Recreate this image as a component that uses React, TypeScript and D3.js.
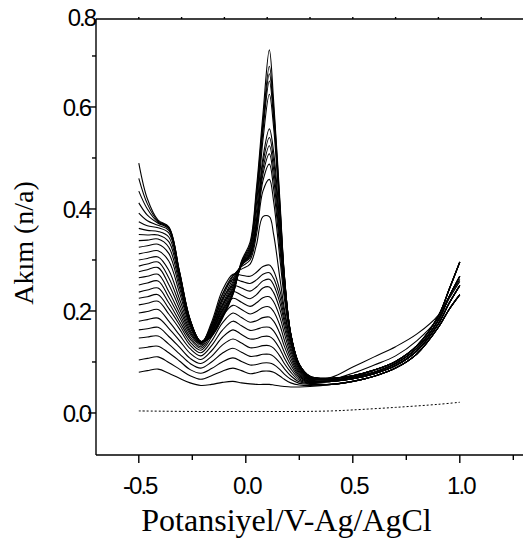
import React from 'react';
import * as d3 from 'd3';

// potentials (V) at which the scan currents are read
const potentials = [-0.5, -0.46, -0.41, -0.36, -0.31, -0.26, -0.21, -0.16, -0.11, -0.06, -0.02, 0.02, 0.05, 0.08, 0.11, 0.13, 0.16, 0.18, 0.21, 0.25, 0.3];
const tailPotentials = [0.4, 0.5, 0.6, 0.7, 0.8, 0.9, 0.95, 1.0];

// current (n/a) for each scan, lowest to highest
const scanCurrents: number[][] = [
  [0.080, 0.083, 0.086, 0.078, 0.068, 0.059, 0.054, 0.056, 0.060, 0.062, 0.059, 0.057, 0.056, 0.056, 0.056, 0.055, 0.053, 0.052, 0.051, 0.051, 0.052],
  [0.104, 0.107, 0.110, 0.099, 0.086, 0.073, 0.066, 0.073, 0.082, 0.088, 0.083, 0.077, 0.079, 0.082, 0.082, 0.080, 0.072, 0.066, 0.059, 0.055, 0.054],
  [0.127, 0.129, 0.131, 0.118, 0.102, 0.085, 0.078, 0.087, 0.100, 0.108, 0.101, 0.094, 0.095, 0.098, 0.098, 0.095, 0.085, 0.076, 0.066, 0.058, 0.056],
  [0.147, 0.149, 0.151, 0.135, 0.116, 0.097, 0.088, 0.100, 0.117, 0.127, 0.119, 0.111, 0.112, 0.115, 0.115, 0.111, 0.098, 0.087, 0.073, 0.061, 0.057],
  [0.163, 0.165, 0.168, 0.150, 0.129, 0.107, 0.097, 0.111, 0.133, 0.145, 0.137, 0.128, 0.129, 0.132, 0.132, 0.127, 0.111, 0.097, 0.080, 0.064, 0.058],
  [0.180, 0.183, 0.186, 0.166, 0.142, 0.117, 0.105, 0.122, 0.148, 0.163, 0.154, 0.145, 0.146, 0.150, 0.150, 0.144, 0.125, 0.108, 0.087, 0.067, 0.059],
  [0.196, 0.199, 0.203, 0.180, 0.153, 0.126, 0.112, 0.132, 0.162, 0.180, 0.171, 0.162, 0.164, 0.168, 0.168, 0.161, 0.139, 0.119, 0.094, 0.070, 0.060],
  [0.212, 0.215, 0.219, 0.194, 0.165, 0.133, 0.118, 0.141, 0.176, 0.196, 0.187, 0.178, 0.181, 0.187, 0.188, 0.180, 0.155, 0.131, 0.101, 0.073, 0.061],
  [0.225, 0.228, 0.232, 0.205, 0.173, 0.139, 0.123, 0.149, 0.189, 0.211, 0.203, 0.194, 0.199, 0.207, 0.208, 0.199, 0.171, 0.143, 0.108, 0.076, 0.062],
  [0.237, 0.241, 0.245, 0.216, 0.180, 0.145, 0.127, 0.156, 0.201, 0.225, 0.217, 0.209, 0.216, 0.226, 0.228, 0.218, 0.187, 0.156, 0.115, 0.079, 0.063],
  [0.251, 0.255, 0.259, 0.227, 0.188, 0.149, 0.130, 0.163, 0.211, 0.238, 0.231, 0.224, 0.232, 0.245, 0.247, 0.236, 0.202, 0.168, 0.122, 0.082, 0.064],
  [0.265, 0.268, 0.272, 0.238, 0.196, 0.154, 0.133, 0.169, 0.222, 0.250, 0.245, 0.239, 0.247, 0.259, 0.262, 0.251, 0.215, 0.178, 0.128, 0.085, 0.065],
  [0.277, 0.281, 0.285, 0.252, 0.205, 0.158, 0.135, 0.174, 0.232, 0.262, 0.258, 0.254, 0.261, 0.272, 0.275, 0.264, 0.226, 0.187, 0.134, 0.088, 0.066],
  [0.288, 0.292, 0.296, 0.265, 0.214, 0.162, 0.136, 0.178, 0.240, 0.272, 0.270, 0.268, 0.276, 0.287, 0.290, 0.279, 0.239, 0.197, 0.140, 0.090, 0.067],
  [0.300, 0.303, 0.306, 0.280, 0.224, 0.167, 0.137, 0.172, 0.232, 0.270, 0.282, 0.292, 0.330, 0.385, 0.385, 0.350, 0.262, 0.205, 0.140, 0.090, 0.068],
  [0.312, 0.315, 0.318, 0.298, 0.236, 0.171, 0.138, 0.168, 0.225, 0.268, 0.287, 0.300, 0.350, 0.435, 0.458, 0.415, 0.300, 0.225, 0.148, 0.092, 0.069],
  [0.325, 0.328, 0.331, 0.313, 0.246, 0.174, 0.139, 0.165, 0.218, 0.263, 0.290, 0.305, 0.360, 0.455, 0.488, 0.440, 0.318, 0.236, 0.150, 0.093, 0.069],
  [0.338, 0.339, 0.341, 0.325, 0.254, 0.176, 0.139, 0.162, 0.212, 0.258, 0.290, 0.308, 0.365, 0.468, 0.508, 0.460, 0.330, 0.243, 0.152, 0.094, 0.070],
  [0.350, 0.349, 0.349, 0.336, 0.261, 0.178, 0.140, 0.160, 0.207, 0.253, 0.290, 0.310, 0.370, 0.478, 0.524, 0.478, 0.342, 0.250, 0.153, 0.094, 0.070],
  [0.362, 0.358, 0.356, 0.345, 0.266, 0.179, 0.140, 0.158, 0.202, 0.248, 0.290, 0.312, 0.375, 0.490, 0.540, 0.495, 0.355, 0.256, 0.154, 0.095, 0.070],
  [0.375, 0.367, 0.363, 0.353, 0.270, 0.180, 0.140, 0.156, 0.197, 0.244, 0.290, 0.314, 0.380, 0.500, 0.557, 0.512, 0.366, 0.262, 0.155, 0.095, 0.071],
  [0.392, 0.377, 0.368, 0.358, 0.273, 0.181, 0.140, 0.154, 0.193, 0.240, 0.291, 0.318, 0.395, 0.535, 0.625, 0.560, 0.385, 0.266, 0.155, 0.095, 0.071],
  [0.412, 0.388, 0.372, 0.361, 0.275, 0.182, 0.140, 0.153, 0.190, 0.237, 0.292, 0.322, 0.410, 0.552, 0.651, 0.577, 0.393, 0.268, 0.155, 0.095, 0.071],
  [0.435, 0.400, 0.374, 0.363, 0.276, 0.182, 0.140, 0.152, 0.188, 0.235, 0.294, 0.326, 0.422, 0.562, 0.665, 0.588, 0.400, 0.270, 0.155, 0.095, 0.072],
  [0.460, 0.410, 0.376, 0.364, 0.277, 0.183, 0.140, 0.151, 0.187, 0.233, 0.296, 0.330, 0.432, 0.570, 0.680, 0.598, 0.405, 0.271, 0.155, 0.095, 0.072],
  [0.490, 0.420, 0.378, 0.365, 0.278, 0.183, 0.140, 0.150, 0.185, 0.232, 0.298, 0.335, 0.442, 0.585, 0.712, 0.612, 0.412, 0.272, 0.155, 0.095, 0.072],
];

// anodic tails (0.4 .. 1.0 V)
const tailLow = [0.056, 0.062, 0.072, 0.088, 0.116, 0.168, 0.203, 0.232];
const tailMid = [0.062, 0.067, 0.077, 0.093, 0.122, 0.175, 0.215, 0.250];
const tailMid2 = [0.065, 0.070, 0.080, 0.097, 0.127, 0.182, 0.228, 0.268];
const tailHigh = [0.068, 0.073, 0.084, 0.101, 0.132, 0.190, 0.242, 0.296];
const tailStray1 = [0.070, 0.090, 0.110, 0.130, 0.155, 0.192, 0.228, 0.262];
const tailStray2 = [0.066, 0.078, 0.094, 0.112, 0.142, 0.186, 0.224, 0.258];
const tails = [tailLow, tailMid, tailMid2, tailHigh, tailStray1, tailStray2];
const tailOfScan = [0, 0, 0, 0, 0, 0, 1, 1, 1, 1, 1, 1, 1, 5, 4, 2, 2, 2, 2, 2, 3, 3, 3, 3, 3, 3];

// blank (dotted) scan
const blankPotentials = [-0.5, -0.25, 0.0, 0.25, 0.4, 0.5, 0.7, 0.9, 1.0];
const blankCurrents = [0.004, 0.003, 0.003, 0.003, 0.004, 0.006, 0.011, 0.017, 0.021];

// axes
const xMajorTicks = [-0.5, 0.0, 0.5, 1.0];
const xTickLabels = ['-0.5', '0.0', '0.5', '1.0'];
const xMinorTicks = [-0.25, 0.25, 0.75, 1.25];
const topTicks = [-0.5, -0.3, -0.1, 0.1, 0.3, 0.5, 0.7, 0.9, 1.1];
const yMajorTicks = [0.0, 0.2, 0.4, 0.6];
const yTickLabels = ['0.0', '0.2', '0.4', '0.6'];
const yMinorTicks = [0.1, 0.3, 0.5, 0.7];
const yTopLabel = '0.8';
const xDomain = [-0.7, 1.3];
const yDomain = [-0.0824, 0.7725];

const xTitle = 'Potansiyel/V-Ag/AgCl';
const yTitle = 'Akım (n/a)';

export default function App() {
  const W = 523, H = 540;
  const left = 96, right = 524, top = 19, bottom = 455;
  const x = d3.scaleLinear().domain(xDomain).range([left, right]);
  const y = d3.scaleLinear().domain(yDomain).range([bottom, top]);
  const line = d3.line<[number, number]>()
    .x(d => x(d[0]))
    .y(d => y(d[1]))
    .curve(d3.curveCatmullRom.alpha(0.5));

  const paths = scanCurrents.map((row, i) => {
    const pts: [number, number][] = row.map((v, j) => [potentials[j], v]);
    const t = tails[tailOfScan[i]];
    t.forEach((v, j) => pts.push([tailPotentials[j], v]));
    return line(pts) || '';
  });
  const blank = line(blankPotentials.map((p, i) => [p, blankCurrents[i]] as [number, number])) || '';

  const tickFont = { fontFamily: 'Liberation Sans, Arial, sans-serif', fontSize: 24, letterSpacing: -2 };
  const titleFont = { fontFamily: 'Liberation Serif, Times New Roman, serif', fontSize: 32 };

  return (
    <svg width={W} height={H} style={{ position: 'absolute', left: 0, top: 0, background: '#fff' }}>
      <rect x={0} y={0} width={W} height={H} fill="#fff" />
      <g fill="none" stroke="#000" strokeWidth={1.1}>
        {paths.map((d, i) => <path key={i} d={d} />)}
      </g>
      <path d={blank} fill="none" stroke="#000" strokeWidth={1} strokeDasharray="2,2" />
      <g stroke="#000" strokeWidth={1.4}>
        <line x1={left} x2={left} y1={top} y2={bottom} />
        <line x1={left} x2={W} y1={bottom} y2={bottom} />
        <line x1={left} x2={W} y1={top} y2={top} />
        {xMajorTicks.map(t => <line key={'xm' + t} x1={x(t)} x2={x(t)} y1={bottom} y2={bottom + 8} />)}
        {xMinorTicks.map(t => <line key={'xn' + t} x1={x(t)} x2={x(t)} y1={bottom} y2={bottom + 5} />)}
        {topTicks.map(t => <line key={'tt' + t} x1={x(t)} x2={x(t)} y1={top - 2} y2={top} />)}
        {yMajorTicks.map(t => <line key={'ym' + t} x1={left - 8} x2={left} y1={y(t)} y2={y(t)} />)}
        {yMinorTicks.map(t => <line key={'yn' + t} x1={left - 4} x2={left} y1={y(t)} y2={y(t)} />)}
      </g>
      <g style={tickFont} fill="#000">
        {xMajorTicks.map((t, i) => (
          <text key={'xl' + t} x={x(t) + 1} y={494} textAnchor="middle">{xTickLabels[i]}</text>
        ))}
        {yMajorTicks.map((t, i) => (
          <text key={'yl' + t} x={90} y={y(t)} dy="0.36em" textAnchor="end">{yTickLabels[i]}</text>
        ))}
        <text x={95} y={y(yDomain[1])} dy="0.3em" textAnchor="end">{yTopLabel}</text>
      </g>
      <text x={(140 + 433) / 2} y={531} textAnchor="middle" style={titleFont}>{xTitle}</text>
      <text transform={`translate(33, ${(top + bottom) / 2 + 6}) rotate(-90)`} textAnchor="middle" style={{ ...titleFont, fontSize: 28 }}>{yTitle}</text>
    </svg>
  );
}
